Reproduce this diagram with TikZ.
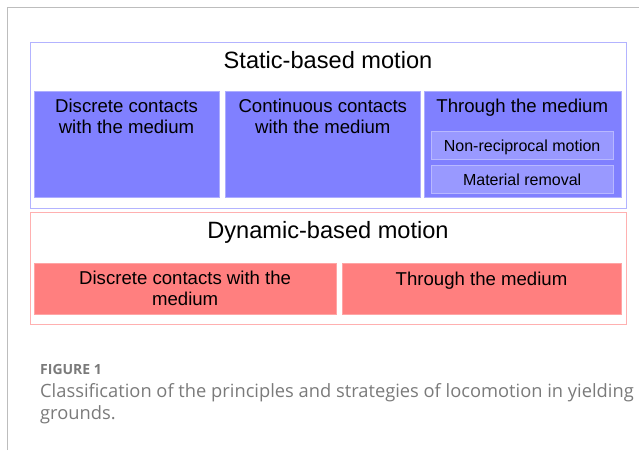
\documentclass[tikz,border=0pt]{standalone}
\usepackage{fontspec}
\setmainfont{Liberation Sans}
\newfontfamily\capfont{Open Sans}
\usepackage{xcolor}
\usetikzlibrary{positioning}
\definecolor{statline}{HTML}{B3B3FF}
\definecolor{statfill}{HTML}{8080FF}
\definecolor{statsub}{HTML}{9999FF}
\definecolor{dynline}{HTML}{FFB0B0}
\definecolor{dynfill}{HTML}{FF7F7F}
\definecolor{capgray}{HTML}{7A7A7A}
\definecolor{framegray}{HTML}{BDBDBD}

\begin{document}
\begin{tikzpicture}[x=1pt,y=-1pt,
box/.style={inner sep=0pt,anchor=north west},
statbox/.style={box,draw=statline,line width=1.2pt},
statcell/.style={box,fill=statfill,draw=statsub!80!white,line width=0.8pt},
statsubcell/.style={box,fill=statsub,draw=statsub!70!white,line width=0.8pt},
dynbox/.style={box,draw=dynline,line width=1.2pt},
dyncell/.style={box,fill=dynfill,draw=dynfill!70!white,line width=0.8pt},
title/.style={anchor=base,font=\fontsize{23.6}{27}\selectfont},
celltext/.style={anchor=base,align=center,font=\fontsize{18.6}{20.5}\selectfont},
subtext/.style={anchor=base,font=\fontsize{16}{18}\selectfont}]
\useasboundingbox (0,0) rectangle (639,450);
\draw[framegray,line width=1pt] (7.3,450)|-(639,7.3);

\node[statbox,minimum width=595.5pt,minimum height=166.5pt] (static) at (30,41.5) {};
\node[title] (statictitle) at (328,68.3) {Static-based motion};
\node[statcell,minimum width=185pt,minimum height=106pt] (s1) at (34,91) {};
\node[statcell,minimum width=195pt,minimum height=106pt] (s2) at (225.3,91) {};
\node[statcell,minimum width=196.7pt,minimum height=106pt] (s3) at (424,91) {};
\node[celltext] (s1text) at (126.5,133.3) {Discrete contacts\\with the medium};
\node[celltext] (s2text) at (322.8,133.3) {Continuous contacts\\with the medium};
\node[celltext] (s3text) at (522.3,112.7) {Through the medium};
\node[statsubcell,minimum width=181.5pt,minimum height=28pt] (nonrec) at (431,131) {};
\node[statsubcell,minimum width=181.5pt,minimum height=28pt] (matrem) at (431,165) {};
\node[subtext] (nonrectext) at (nonrec.center|-0,151.3) {Non-reciprocal motion};
\node[subtext] (matremtext) at (matrem.center|-0,185) {Material removal};

\node[dynbox,minimum width=595.5pt,minimum height=112pt] (dynamic) at (30,212) {};
\node[title] (dynamictitle) at (328,238.3) {Dynamic-based motion};
\node[dyncell,minimum width=302.5pt,minimum height=51pt] (d1) at (33.5,263) {};
\node[dyncell,minimum width=279.2pt,minimum height=51pt] (d2) at (341.5,263) {};
\node[celltext] (d1text) at (d1.center|-0,305) {Discrete contacts with the\\medium};
\node[celltext] (d2text) at (d2.center|-0,285) {Through the medium};

\node[anchor=base west,inner sep=0pt,text=capgray,font=\capfont\bfseries\fontsize{14}{18}\selectfont] (fig) at (40,374.5) {FIGURE 1};
\node[anchor=base west,inner sep=0pt,text=capgray,align=left,font=\capfont\fontsize{18.3}{21.5}\selectfont] (caption) at (40,419) {Classification of the principles and strategies of locomotion in yielding\\grounds.};
\end{tikzpicture}
\end{document}
